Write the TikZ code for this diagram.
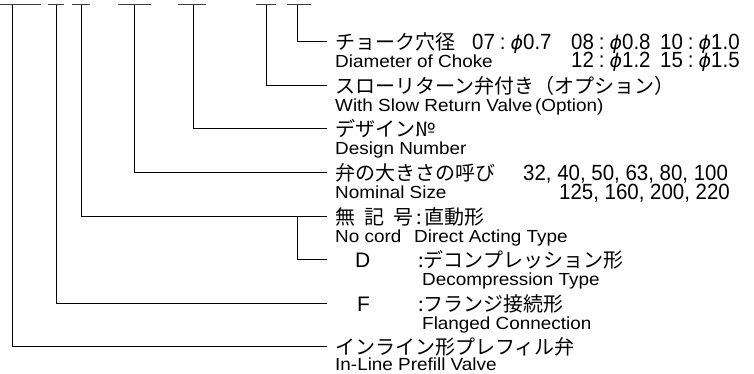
\documentclass[tikz,border=0pt]{standalone}
\usepackage{fontspec}
\setmainfont{Liberation Sans}
\newfontfamily\jp{Noto Sans CJK JP}
\newfontfamily\enf[FakeStretch=1.08]{Liberation Sans}
\newfontfamily\numf[FakeStretch=0.93]{Liberation Sans}
\newfontfamily\phif{DejaVu Sans}
\newcommand{\dia}[2]{#1\hspace{5pt}:\hspace{5pt}\smash{\phif\itshape\fontsize{19}{19}\selectfont ϕ}#2}
\begin{document}
\begin{tikzpicture}[x=1pt,y=-1pt,
  jt/.style={anchor=base west, inner sep=0pt, font=\jp\fontsize{20}{20}\selectfont},
  et/.style={anchor=base west, inner sep=0pt, font=\enf\fontsize{17.5}{18}\selectfont},
  nt/.style={anchor=base west, inner sep=0pt, font=\numf\fontsize{22}{22}\selectfont},
  lt/.style={anchor=base west, inner sep=0pt, font=\fontsize{21}{21}\selectfont},
  ln/.style={line width=1pt, black},
  ul/.style={line width=1pt, black!75}]
\useasboundingbox (0,0) rectangle (754,374);
% underlines of the code
\draw[ul] (0,5) -- (41,5);
\draw[ul] (48,5) -- (64,5);
\draw[ul] (72,5) -- (90,5);
\draw[ul] (118,5) -- (151,5);
\draw[ul] (178,5) -- (206,5);
\draw[ul] (256,5) -- (276,5);
\draw[ul] (287,5) -- (311,5);
% top points
\coordinate (t1) at (297,5);
\coordinate (t2) at (266,5);
\coordinate (t3) at (193,5);
\coordinate (t4) at (134,5);
\coordinate (t5) at (81,5);
\coordinate (t6) at (56,5);
\coordinate (t7) at (12,5);
% end points
\coordinate (e1) at (327,42);
\coordinate (e2) at (327,85.5);
\coordinate (e3) at (327,129);
\coordinate (e4) at (327,172.5);
\coordinate (e5) at (327,216);
\coordinate (e6) at (327,259.5);
\coordinate (e7) at (327,303);
\coordinate (e8) at (327,346.5);
\coordinate (b5) at (297,216);
% connectors
\draw[ln] (t1) |- (e1);
\draw[ln] (t2) |- (e2);
\draw[ln] (t3) |- (e3);
\draw[ln] (t4) |- (e4);
\draw[ln] (t5) |- (e5);
\draw[ln] (b5) |- (e6);
\draw[ln] (t6) |- (e7);
\draw[ln] (t7) |- (e8);
% row 1
\node[jt] (j1) at (335,50) {チョーク穴径};
\node[nt] (n1a) at (472,50) {\dia{07}{0.7}};
\node[nt] (n1b) at (571,50) {\dia{08}{0.8}};
\node[nt] (n1c) at (660,50) {\dia{10}{1.0}};
\node[et] (d1) at (335,68) {Diameter of Choke};
\node[nt] (n1d) at (571,68) {\dia{12}{1.2}};
\node[nt] (n1e) at (660,68) {\dia{15}{1.5}};
% row 2
\node[jt] (j2) at (335,93.5) {スローリターン弁付き（オプション）};
\node[et] (d2) at (335,111.5) {With Slow Return Valve\,(Option)};
% row 3
\node[jt] (j3) at (335,137) {デザイン№};
\node[et] (d3) at (335,155) {Design Number};
% row 4
\node[jt] (j4) at (335,180.5) {弁の大きさの呼び};
\node[nt] (n4a) at (523,180.5) {32, 40, 50, 63, 80, 100};
\node[et] (d4) at (335,198.5) {Nominal Size};
\node[nt, anchor=base east] (n4b) at (730,199.5) {125, 160, 200, 220};
% row 5
\node[jt] (j5) at (335,224) {無\hspace{9pt}記\hspace{9pt}号\hspace{3pt}:\hspace{3pt}直動形};
\node[et] (d5a) at (335,242) {No cord};
\node[et] (d5b) at (414,242) {Direct Acting Type};
% row 6
\node[lt] (l6) at (355,267.5) {D};
\node[jt] (j6) at (418,267.5) {:デコンプレッション形};
\node[et] (d6) at (422,285.5) {Decompression Type};
% row 7
\node[lt] (l7) at (357,311) {F};
\node[jt] (j7) at (418,311) {:フランジ接続形};
\node[et] (d7) at (422,329) {Flanged Connection};
% row 8
\node[jt] (j8) at (335,354.5) {インライン形プレフィル弁};
\node[et] (d8) at (335,370) {In-Line Prefill Valve};
\end{tikzpicture}
\end{document}
